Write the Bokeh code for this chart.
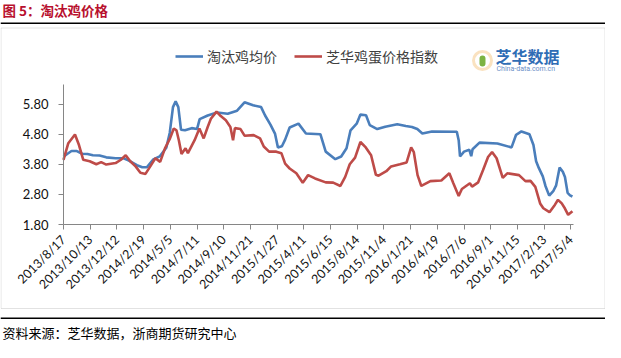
from math import pi
from bokeh.plotting import figure
from bokeh.models import (Range1d, FixedTicker, Label, BoxAnnotation, Legend,
                          LegendItem, NumeralTickFormatter)
from bokeh.embed import file_html
from bokeh.resources import INLINE

# ---------------- data ----------------
tick_labels = ["2013/8/17", "2013/10/13", "2013/12/12", "2014/2/19", "2014/5/5",
               "2014/7/11", "2014/9/10", "2014/11/21", "2015/1/27", "2015/4/11",
               "2015/6/15", "2015/8/14", "2015/11/4", "2016/1/21", "2016/4/19",
               "2016/7/6", "2016/9/1", "2016/11/15", "2017/2/13", "2017/5/4"]
y_ticks = [1.8, 2.8, 3.8, 4.8, 5.8]

# position along the category axis, in units of label intervals
blue_pos = [0.0, 0.15, 0.3, 0.5, 0.7, 0.9, 1.1, 1.35, 1.6, 1.95, 2.25, 2.45, 2.75, 2.95,
            3.12, 3.35, 3.6, 3.85, 3.98, 4.1, 4.2, 4.3, 4.4, 4.55, 4.8, 5.0, 5.1, 5.4,
            5.75, 6.15, 6.5, 6.78, 7.1, 7.4, 7.55, 7.75, 7.92, 8.03, 8.18, 8.3, 8.47,
            8.8, 9.08, 9.62, 9.82, 10.18, 10.4, 10.6, 10.75, 10.98, 11.12, 11.33, 11.47,
            11.75, 12.05, 12.5, 12.82, 13.05, 13.25, 13.44, 13.8, 14.73, 14.8, 14.85,
            15.0, 15.2, 15.27, 15.32, 15.58, 16.25, 16.78, 16.95, 17.15, 17.45, 17.6,
            17.7, 17.8, 17.95, 18.05, 18.19, 18.35, 18.45, 18.58, 18.7, 18.78, 18.88,
            18.97, 19.06]
blue_val = [4.05, 4.15, 4.24, 4.24, 4.15, 4.14, 4.1, 4.09, 4.03, 4.0, 4.0, 3.92, 3.77, 3.7,
            3.7, 3.95, 4.06, 4.35, 4.85, 5.7, 5.89, 5.7, 4.95, 4.93, 5.0, 4.97, 5.3, 5.42,
            5.52, 5.48, 5.58, 5.86, 5.76, 5.7, 5.42, 5.12, 4.82, 4.36, 4.4, 4.62, 5.02,
            5.15, 4.82, 4.8, 4.22, 3.97, 4.06, 4.33, 4.93, 5.15, 5.45, 5.43, 5.1,
            4.97, 5.05, 5.13, 5.07, 5.04, 4.97, 4.82, 4.89, 4.88, 4.6, 4.06,
            4.22, 4.28, 4.07, 4.3, 4.52, 4.49, 4.36, 4.78, 4.89, 4.8, 4.44,
            3.9, 3.68, 3.4, 3.08, 2.76, 2.92, 3.1, 3.69, 3.55, 3.38, 2.85,
            2.77, 2.73]

red_pos = [0.0, 0.18, 0.43, 0.58, 0.74, 0.98, 1.23, 1.41, 1.6, 1.95, 2.15, 2.33, 2.5, 2.7,
           2.88, 3.07, 3.25, 3.44, 3.62, 3.8, 3.99, 4.13, 4.23, 4.32, 4.42, 4.57, 4.66,
           4.91, 5.09, 5.25, 5.4, 5.52, 5.73, 5.89, 6.08, 6.25, 6.35, 6.42, 6.63, 6.78,
           7.12, 7.36, 7.5, 7.7, 7.97, 8.16, 8.3, 8.47, 8.72, 8.96, 9.16, 9.42, 9.82,
           10.1, 10.37, 10.55, 10.72, 10.92, 11.12, 11.32, 11.52, 11.7, 11.8, 12.09,
           12.27, 12.6, 12.85, 13.02, 13.12, 13.26, 13.4, 13.74, 14.15, 14.45, 14.6,
           14.8, 14.92, 15.22, 15.3, 15.53, 15.71, 15.9, 16.05, 16.22, 16.45, 16.62,
           17.06, 17.3, 17.49, 17.67, 17.85, 17.97, 18.2, 18.4, 18.52, 18.66, 18.78,
           18.9, 19.06]
red_val = [3.95, 4.5, 4.79, 4.44, 3.95, 3.9, 3.8, 3.87, 3.79, 3.84, 3.95, 4.1, 3.9, 3.73,
           3.52, 3.48, 3.73, 4.0, 3.88, 4.33, 4.66, 4.99, 4.93, 4.6, 4.14, 4.33, 4.17,
           4.6, 4.99, 4.66, 5.04, 5.31, 5.55, 5.4, 5.26, 5.04, 4.6, 5.0, 4.97, 4.75,
           4.77, 4.66, 4.39, 4.22, 4.22, 4.17, 3.82, 3.66, 3.5, 3.19, 3.44, 3.33, 3.2,
           3.19, 3.08, 3.38, 3.8, 4.02, 4.54, 4.36, 4.1, 3.45, 3.42, 3.57,
           3.73, 3.8, 3.86, 4.36, 4.2, 3.44, 3.08, 3.24, 3.26, 3.5, 3.17,
           2.75, 2.98, 3.17, 3.06, 3.2, 3.6, 4.04, 4.21, 4.0, 3.35, 3.5,
           3.44, 3.24, 3.25, 3.05, 2.5, 2.34, 2.21, 2.45, 2.62, 2.5, 2.33,
           2.12, 2.24]

assert len(blue_pos) == len(blue_val)
assert len(red_pos) == len(red_val)

BLUE = "#4A7EBB"
RED = "#BE4B48"
AXIS = "#868686"
CJK = "Noto Sans CJK SC"

# ---------------- layout (pixels) ----------------
W, H = 605, 342
X0, X1 = 0.0, 19.1            # data extent of the axis
Y0, Y1 = 1.8, 6.45
PL, PR = 63, 573              # plot area left/right in canvas px
PT, PB = 84, 224              # plot area top/bottom in canvas px
kx = (X1 - X0) / (PR - PL)
ky = (Y1 - Y0) / (PB - PT)

p = figure(width=W, height=H, output_backend="svg", toolbar_location=None,
           x_range=Range1d(X0 - PL * kx, X1 + (W - PR) * kx),
           y_range=Range1d(Y0 - (H - PB) * ky, Y1 + PT * ky),
           min_border_left=0, min_border_right=0, min_border_top=0,
           min_border_bottom=0)
p.title.visible = False
p.outline_line_color = None
p.grid.visible = False
p.background_fill_color = "white"
p.border_fill_color = "white"

# axes (fixed inside the canvas)
p.xaxis.fixed_location = Y0
p.xaxis.bounds = (X0, X1)
p.yaxis.fixed_location = X0
p.yaxis.bounds = (Y0, Y1)
p.xaxis.ticker = FixedTicker(ticks=list(range(len(tick_labels))))
p.xaxis.major_label_overrides = {i: s for i, s in enumerate(tick_labels)}
p.xaxis.major_label_orientation = pi / 4
p.yaxis.ticker = FixedTicker(ticks=y_ticks)
p.yaxis.formatter = NumeralTickFormatter(format="0.00")
for ax in (p.xaxis, p.yaxis):
    ax.axis_line_color = AXIS
    ax.major_tick_line_color = AXIS
    ax.major_tick_in = 0
    ax.major_tick_out = 5
    ax.minor_tick_line_color = None
    ax.major_label_text_font = "Lato"
    ax.major_label_text_color = "#111111"
p.xaxis.major_label_text_font_size = "12.5px"
p.yaxis.major_label_text_font_size = "13px"
p.xaxis.major_label_standoff = 8
p.yaxis.major_label_standoff = 10

rb = p.line(blue_pos, blue_val, line_color=BLUE, line_width=2.6)
rr = p.line(red_pos, red_val, line_color=RED, line_width=2.6)

legend = Legend(items=[LegendItem(label="淘汰鸡均价", renderers=[rb]),
                       LegendItem(label="芝华鸡蛋价格指数", renderers=[rr])],
                location=(175, H - 66), orientation="horizontal",
                glyph_width=28, glyph_height=16, label_height=16, label_standoff=4,
                spacing=17, padding=0, margin=0, border_line_color=None,
                background_fill_alpha=0, label_text_font=CJK,
                label_text_font_size="14px", label_text_color="#404040")
p.add_layout(legend)


def lab(x, y, text, size, color, bold=False, font=CJK):
    p.add_layout(Label(x=x, y=y, x_units="canvas", y_units="canvas", text=text,
                       text_font=font, text_font_size=f"{size}px", text_color=color,
                       text_font_style="bold" if bold else "normal",
                       text_baseline="middle", text_align="left"))


def box(l, r, t, b, fill=None, line=None, lw=1, radius=0):
    p.add_layout(BoxAnnotation(left=l, right=r, top=t, bottom=b,
                               left_units="canvas", right_units="canvas",
                               top_units="canvas", bottom_units="canvas",
                               fill_color=fill if fill else "white",
                               fill_alpha=1 if fill else 0,
                               line_color=line, line_width=lw,
                               border_radius=int(radius), level="overlay"))


# title + separators + chart frame
lab(2, 9, "图 5：淘汰鸡价格", 13.5, "#B8102E", bold=True)
box(0, W, 22, 23.6, fill="black")
box(0.5, W - 0.5, 27.5, 308, line="#A0A0A0", lw=1)
box(0, W, 317, 318.6, fill="black")
lab(2, 332, "资料来源：芝华数据，浙商期货研究中心", 13, "black")

# logo
box(473, 491, 51, 69, line="#F0A030", lw=3, radius=9)
box(479, 485, 55, 66, fill="#7CB342", radius=3)
lab(495, 55.5, "芝华数据", 16, "#2F6DB5", bold=True)
lab(496, 68.5, "China-data.com.cn", 7, "#6B8FC7", font="Roboto")

open("out.html", "w").write(file_html(p, INLINE))
